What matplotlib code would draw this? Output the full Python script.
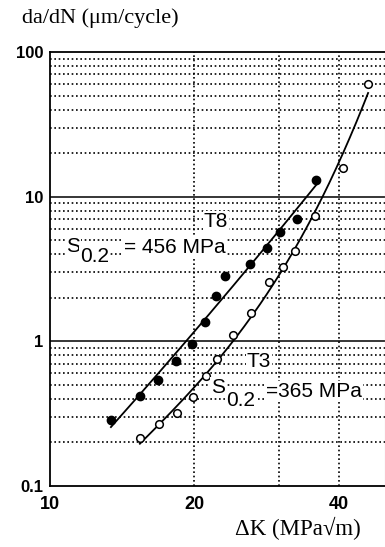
import numpy as np
import matplotlib
matplotlib.use("Agg")
import matplotlib.pyplot as plt
from matplotlib.ticker import FixedLocator, FixedFormatter

# ---- data ----
t8_dk = [13.4, 15.4, 16.8, 18.3, 19.8, 21.1, 22.2, 23.2, 26.1, 28.4, 30.2, 32.7, 35.9]
t8_rate = [0.285, 0.42, 0.54, 0.73, 0.96, 1.37, 2.05, 2.85, 3.43, 4.43, 5.74, 7.02, 13.0]

t3_dk = [15.4, 16.9, 18.4, 19.9, 21.2, 22.3, 24.1, 26.3, 28.6, 30.6, 32.4, 35.7, 40.8, 46.1]
t3_rate = [0.214, 0.268, 0.32, 0.414, 0.574, 0.75, 1.11, 1.57, 2.56, 3.25, 4.24, 7.31, 15.9, 60.4]

x_ticks = [10, 20, 40]
x_tick_labels = ["10", "20", "40"]
x_grid = [20, 30, 40]
y_ticks = [0.1, 1, 10, 100]
y_tick_labels = ["0.1", "1", "10", "100"]

W, H = 385, 547
fig = plt.figure(figsize=(W / 100, H / 100), dpi=100)
ax = fig.add_axes([50 / W, 1 - 486 / H, 335 / W, (486 - 52) / H])
ax.set_xscale("log")
ax.set_yscale("log")
ax.set_xlim(10, 50)
ax.set_ylim(0.1, 100)

dot = (0, (1.0, 1.6))
for v in x_grid:
    ax.axvline(v, color="black", lw=1.2, ls=dot, zorder=1)
for dec in [0.1, 1, 10]:
    for m in range(2, 10):
        ax.axhline(dec * m, color="black", lw=1.2, ls=dot, zorder=1)
for v in [1, 10]:
    ax.axhline(v, color="black", lw=1.1, zorder=1)

def fit_curve(xs, ys, deg):
    lx, ly = np.log10(xs), np.log10(ys)
    p = np.polyfit(lx, ly, deg)
    gx = np.linspace(lx.min(), lx.max(), 200)
    return 10 ** gx, 10 ** np.polyval(p, gx)

cx, cy = fit_curve(t8_dk, t8_rate, 2)
ax.plot(cx, cy, color="black", lw=1.3, zorder=3)
cx, cy = fit_curve(t3_dk, t3_rate, 3)
ax.plot(cx, cy, color="black", lw=1.3, zorder=3)

ax.plot(t8_dk, t8_rate, "o", ms=6, mfc="black", mec="black", zorder=4)
ax.plot(t3_dk, t3_rate, "o", ms=5.5, mfc="white", mec="black", mew=1.1, zorder=4)

ax.xaxis.set_major_locator(FixedLocator(x_ticks))
ax.xaxis.set_major_formatter(FixedFormatter(x_tick_labels))
ax.xaxis.set_minor_locator(FixedLocator([]))
ax.yaxis.set_major_locator(FixedLocator(y_ticks))
ax.yaxis.set_major_formatter(FixedFormatter(y_tick_labels))
ax.yaxis.set_minor_locator(FixedLocator([]))
ax.tick_params(axis="x", length=0, labelsize=13, pad=7)
ax.tick_params(axis="y", length=0, labelsize=12, pad=5)
for lab in ax.get_xticklabels() + ax.get_yticklabels():
    lab.set_family("Liberation Sans")
    lab.set_fontweight("bold")

for s in ["left", "bottom", "top"]:
    ax.spines[s].set_linewidth(1.3)
ax.spines["right"].set_color("#bbbbbb")
ax.spines["right"].set_linewidth(0.8)

def px(x, y):
    return x / W, 1 - y / H

serif = ["Liberation Serif", "DejaVu Serif"]
sans = "Liberation Sans"
fig.text(*px(22, 23), "da/dN (\u03bcm/cycle)", family=serif, fontsize=16, va="baseline", ha="left")
fig.text(*px(361, 535), "\u0394K (MPa\u221am)", family=serif, fontsize=16.5, va="baseline", ha="right")

fs = 15
bb = dict(facecolor="white", edgecolor="none", pad=0.5)
fig.text(*px(216, 227), "T8", family=sans, fontsize=fs, va="baseline", ha="center", bbox=bb)
fig.text(*px(66, 252), "S", family=sans, fontsize=fs, va="baseline", ha="left", bbox=bb)
fig.text(*px(80, 262), "0.2", family=sans, fontsize=fs, va="baseline", ha="left", bbox=bb)
fig.text(*px(124, 253), "= 456 MPa", family=sans, fontsize=fs, va="baseline", ha="left", bbox=bb)

fig.text(*px(259, 367), "T3", family=sans, fontsize=fs, va="baseline", ha="center", bbox=bb)
fig.text(*px(211, 393), "S", family=sans, fontsize=fs, va="baseline", ha="left", bbox=bb)
fig.text(*px(226, 406), "0.2", family=sans, fontsize=fs, va="baseline", ha="left", bbox=bb)
fig.text(*px(266, 397), "=365 MPa", family=sans, fontsize=fs, va="baseline", ha="left", bbox=bb)

fig.savefig("out.png", dpi=100)
